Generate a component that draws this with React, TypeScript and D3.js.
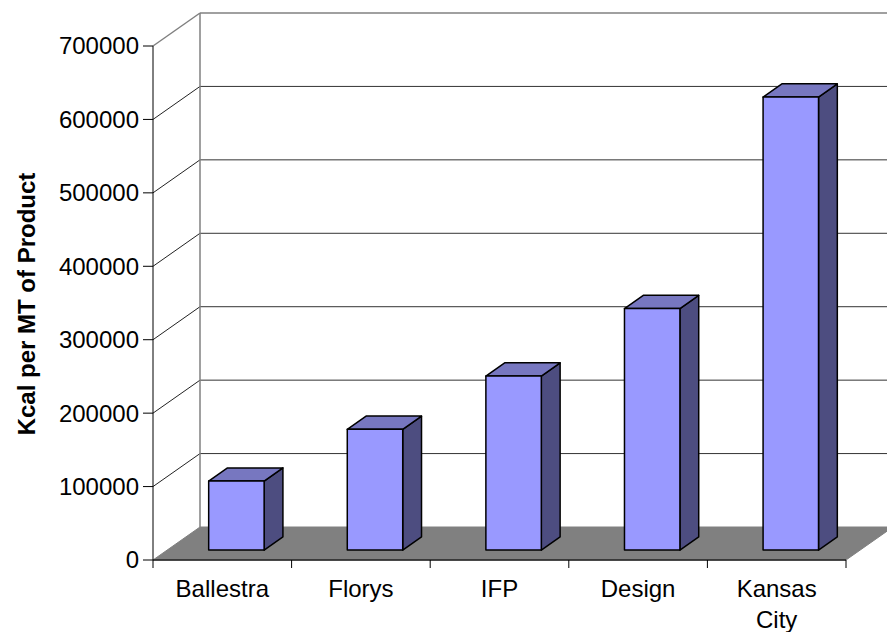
import React from "react";
import * as d3 from "d3";

const categories = ["Ballestra", "Florys", "IFP", "Design", "Kansas City"];
const kcalValues = [94000, 164500, 237000, 329000, 617000];
const yTicks = [0, 100000, 200000, 300000, 400000, 500000, 600000, 700000];
const yTitle = "Kcal per MT of Product";

const W = 887;
const H = 632;
// depth projection of the 3D box
const DX = 47;
const DY = -33;
const FONT = "'Liberation Sans', Arial, sans-serif";

function wrapLabel(s: string) {
  return s.length > 10 ? s.split(" ") : [s];
}

export default function App() {
  const x = d3.scaleBand<string>().domain(categories).range([153, 846]).padding(0);
  const y = d3.scaleLinear().domain([0, 700000]).range([560, 46]);
  const bw = x.bandwidth();
  const barW = bw * 0.4;
  const z1 = 0.3;
  const z2 = 0.7;

  const pt = (px: number, py: number, z: number) =>
    `${px + DX * z},${py + DY * z}`;

  const [x0, x1] = x.range();
  const farRight = x1 + DX + 10;

  return (
    <svg
      width={W}
      height={H}
      style={{ position: "absolute", left: 0, top: 0, background: "#fff" }}
      fontFamily={FONT}
    >
      {/* gridlines on side + back wall */}
      {yTicks
        .filter((t) => t > 0)
        .map((t) => (
          <g key={t}>
            <line
              x1={x0}
              y1={y(t)}
              x2={x0 + DX}
              y2={y(t) + DY}
              stroke={t === 700000 ? "#808080" : "#222"}
              strokeWidth={t === 700000 ? 1.5 : 1}
            />
            <line
              x1={x0 + DX}
              y1={y(t) + DY}
              x2={farRight}
              y2={y(t) + DY}
              stroke={t === 700000 ? "#808080" : "#333"}
              strokeWidth={t === 700000 ? 1.5 : 1}
            />
          </g>
        ))}
      <line
        x1={x0 + DX}
        y1={y(700000) + DY}
        x2={x0 + DX}
        y2={y(0) + DY}
        stroke="#808080"
        strokeWidth={1.5}
      />

      {/* floor */}
      <polygon
        points={[
          pt(x0, y(0), 0),
          pt(x0, y(0), 1),
          pt(x1, y(0), 1),
          pt(x1, y(0), 0),
        ].join(" ")}
        fill="#808080"
        stroke="#808080"
      />

      {/* bars */}
      {categories.map((c, i) => {
        const cx = (x(c) as number) + bw / 2;
        const l = cx - barW / 2;
        const r = cx + barW / 2;
        const b = y(0);
        const t = y(kcalValues[i]);
        return (
          <g key={c} stroke="#000" strokeWidth={1.5} strokeLinejoin="round">
            <polygon
              points={[pt(r, b, z1), pt(r, t, z1), pt(r, t, z2), pt(r, b, z2)].join(" ")}
              fill="#4d4d80"
            />
            <polygon
              points={[pt(l, t, z1), pt(r, t, z1), pt(r, t, z2), pt(l, t, z2)].join(" ")}
              fill="#7777c0"
            />
            <polygon
              points={[pt(l, b, z1), pt(l, t, z1), pt(r, t, z1), pt(r, b, z1)].join(" ")}
              fill="#9999ff"
            />
          </g>
        );
      })}

      {/* y axis */}
      <line x1={x0} y1={y(0)} x2={x0} y2={y(700000)} stroke="#000" strokeWidth={1} />
      {yTicks.map((t) => (
        <g key={t}>
          <line x1={x0 - 10} y1={y(t)} x2={x0} y2={y(t)} stroke="#000" />
          <text
            x={x0 - 14}
            y={y(t)}
            dy="0.35em"
            textAnchor="end"
            fontSize={24}
            fill="#000"
          >
            {t}
          </text>
        </g>
      ))}

      {/* x axis */}
      <line x1={x0} y1={y(0)} x2={x1} y2={y(0)} stroke="#222" strokeWidth={1.5} />
      {[...categories.map((c) => x(c) as number), x1].map((v, i) => (
        <line key={i} x1={v} y1={y(0)} x2={v} y2={y(0) + 8} stroke="#000" />
      ))}
      {categories.map((c) => (
        <text
          key={c}
          x={(x(c) as number) + bw / 2}
          y={597}
          textAnchor="middle"
          fontSize={24}
          fill="#000"
        >
          {wrapLabel(c).map((s, j) => (
            <tspan key={j} x={(x(c) as number) + bw / 2} dy={j === 0 ? 0 : 31}>
              {s}
            </tspan>
          ))}
        </text>
      ))}

      {/* axis title */}
      <text
        transform={`translate(35,${(y(0) + y(700000)) / 2 + 1}) rotate(-90)`}
        textAnchor="middle"
        fontSize={24}
        fontWeight="bold"
        fill="#000"
      >
        {yTitle}
      </text>
    </svg>
  );
}
